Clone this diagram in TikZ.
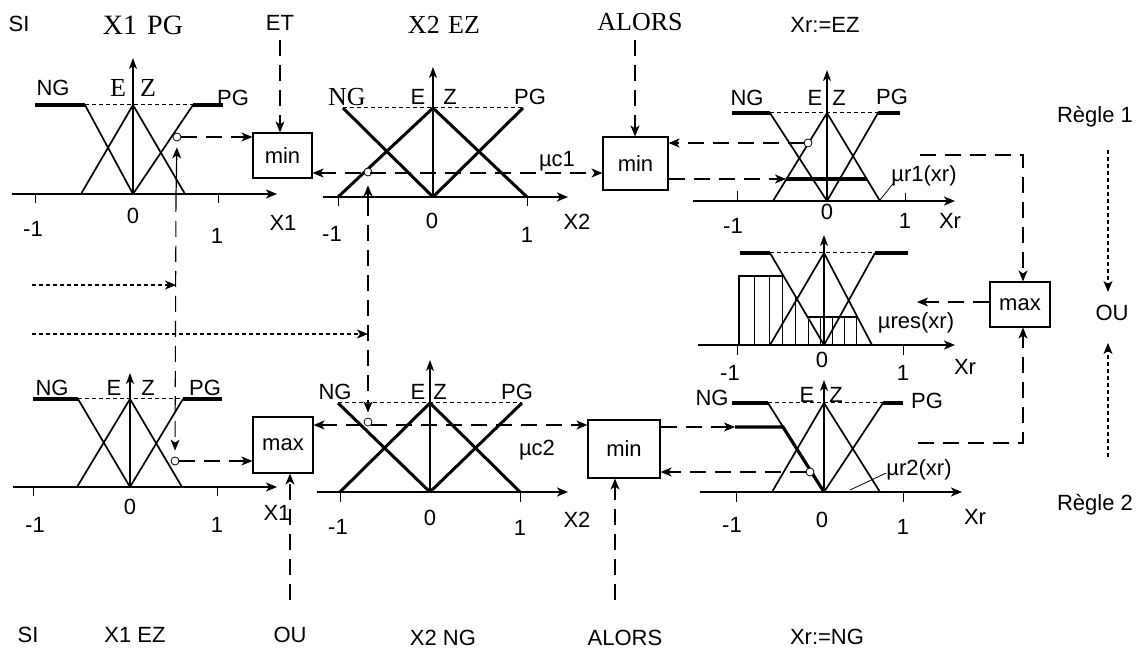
\documentclass[tikz,border=0pt]{standalone}
\usepackage{fontspec}
\setmainfont{Liberation Serif}
\setsansfont{Liberation Sans}
\usetikzlibrary{arrows.meta}
\begin{document}
\begin{tikzpicture}[x=1pt,y=-1pt,
  ax/.style={line width=2.4pt,-{Stealth[length=11pt,width=9pt,inset=3pt]}},
  vax/.style={line width=1.2pt,-{Stealth[length=11pt,width=8pt,inset=3pt]}},
  mf/.style={line width=1.7pt},
  mfb/.style={line width=3pt},
  plat/.style={line width=3.2pt},
  topd/.style={line width=1pt,dash pattern=on 4pt off 3pt},
  tk/.style={line width=1pt},
  con/.style={line width=1.1pt,dash pattern=on 16pt off 9pt},
  dotl/.style={line width=1.1pt,dash pattern=on 4pt off 3pt},
  arr/.style={-{Stealth[length=11pt,width=9pt,inset=3pt]}},
  arrb/.style={{Stealth[length=11pt,width=9pt,inset=3pt]}-{Stealth[length=11pt,width=9pt,inset=3pt]}},
  opbox/.style={draw,line width=1.1pt,inner sep=0pt,font=\sffamily\fontsize{22}{24}\selectfont},
  lab/.style={font=\sffamily\fontsize{22}{24}\selectfont,inner sep=0pt},
  slab/.style={font=\rmfamily\fontsize{26}{28}\selectfont,inner sep=0pt},
  circ/.style={circle,draw,fill=white,minimum size=8pt,inner sep=0pt,line width=0.8pt}]
\fill[white] (0,0) rectangle (1144,652);
\useasboundingbox (0,0) rectangle (1144,652);

% ---------- titles ----------
\node[lab] (si1) at (19,24) {SI};
\node[slab,font=\rmfamily\fontsize{28}{30}\selectfont] (t1) at (143,25) {X1 \hspace{3pt}PG};
\node[lab] (et) at (280,23) {ET};
\node[slab] (t2) at (444,25) {X2 \hspace{2pt}EZ};
\node[slab] (alors1) at (640,22) {ALORS};
\node[lab] (t3) at (825,25) {Xr:=EZ};
\node[lab] (r1) at (1095,117) {Règle 1};
\node[lab] (ou) at (1112,313) {OU};
\node[lab] (r2) at (1095,505) {Règle 2};
\node[lab] (si2) at (28,635) {SI};
\node[lab] (x1ez) at (135,635) {X1 EZ};
\node[lab] (ou2) at (290,635) {OU};
\node[lab] (x2ng) at (443,638) {X2 NG};
\node[lab] (alors2) at (625,638) {ALORS};
\node[lab] (xrng) at (827,637) {Xr:=NG};

% ---------- panel A (X1, rule 1) ----------
\draw[ax] (12,194) -- (277,194);
\draw[vax] (133,194) -- (133,58);
\draw[tk] (35,194) -- (35,203) (218,194) -- (218,203);
\draw[topd] (85,105) -- (193,105);
\draw[plat] (35,105) -- (85,105);
\draw[mf] (85,105) -- (133,194);
\draw[mf] (81,194) -- (133,105) -- (185,194);
\draw[mf] (133,194) -- (193,105);
\draw[plat] (193,105) -- (223,105);
\node[lab] (aNG) at (53,88) {NG};
\node[slab] (aE) at (118,88) {E};
\node[slab] (aZ) at (148,88) {Z};
\node[lab] (aPG) at (233,98) {PG};
\node[lab] (am1) at (33,229) {-1};
\node[lab] (a0) at (133,216) {0};
\node[lab] (a1) at (217,236) {1};
\node[lab] (aX) at (283,223) {X1};

% ---------- panel B (X2, rule 1) ----------
\draw[ax] (323,197) -- (568,197);
\draw[vax] (433,197) -- (433,67);
\draw[tk] (338,197) -- (338,206) (527,197) -- (527,206);
\draw[topd] (343,108) -- (523,108);
\draw[mfb] (343,108) -- (433,197);
\draw[mfb] (338,197) -- (433,108) -- (527,197);
\draw[mfb] (433,197) -- (523,108);
\node[slab] (bNG) at (347,97) {NG};
\node[lab] (bE) at (418,97) {E};
\node[lab] (bZ) at (450,97) {Z};
\node[lab] (bPG) at (530,97) {PG};
\node[lab] (bm1) at (332,234) {-1};
\node[lab] (b0) at (432,221) {0};
\node[lab] (b1) at (527,235) {1};
\node[lab] (bX) at (577,222) {X2};

% ---------- panel C (Xr, rule 1) ----------
\draw[ax] (693,201) -- (955,201);
\draw[vax] (827,201) -- (827,70);
\draw[tk] (737,191) -- (737,201) (905,193) -- (905,201);
\draw[topd] (770,113) -- (878,113);
\draw[plat] (732,113) -- (770,113);
\draw[mf] (770,113) -- (827,201);
\draw[mf] (773,201) -- (827,113) -- (880,201);
\draw[mf] (827,201) -- (878,113);
\draw[plat] (878,113) -- (900,113);
\coordinate (clipL) at (786,179);
\draw[plat] (clipL) -- (867,179);
\node[lab] (cNG) at (747,98) {NG};
\node[lab] (cE) at (815,98) {E};
\node[lab] (cZ) at (839,98) {Z};
\node[lab] (cPG) at (892,97) {PG};
\node[lab] (cm1) at (733,226) {-1};
\node[lab] (c0) at (827,212) {0};
\node[lab] (c1) at (905,221) {1};
\node[lab] (cX) at (950,221) {Xr};
\node[lab] (mur1) at (924,176) {µr1(xr)};
\draw[line width=0.8pt] (mur1.south west) ++(2,-3) -- (880,200);

% ---------- panel D (result) ----------
\draw[ax] (698,345) -- (955,345);
\draw[vax] (824,345) -- (824,235);
\draw[tk] (737,345) -- (737,355) (903,345) -- (903,355);
\draw[topd] (770,253) -- (875,253);
\draw[plat] (740,253) -- (770,253);
\draw[mf] (770,253) -- (824,345);
\draw[mf] (770,345) -- (824,253) -- (872,345);
\draw[mf] (824,345) -- (875,253);
\draw[plat] (875,253) -- (908,253);
\begin{scope}
\clip (739,345) -- (739,276) -- (783,276) -- (808,317) -- (857,317) -- (872,345) -- cycle;
\foreach \x in {739,754,769,782,795,808,820,832,844,856}
  \draw[line width=0.9pt] (\x,250) -- (\x,350);
\end{scope}
\draw[line width=1.8pt] (739,345) -- (739,276) -- (783,276);
\draw[line width=1.8pt] (808,317) -- (857,317);
\node[lab] (dm1) at (730,373) {-1};
\node[lab] (d0) at (822,360) {0};
\node[lab] (d1) at (903,373) {1};
\node[lab] (dX) at (965,367) {Xr};
\node[lab] (mures) at (916,323) {µres(xr)};

% ---------- panel E (X1, rule 2) ----------
\draw[ax] (13,487) -- (277,487);
\draw[vax] (130,487) -- (130,373);
\draw[tk] (33,487) -- (33,496) (217,487) -- (217,496);
\draw[topd] (78,399) -- (183,399);
\draw[plat] (33,399) -- (78,399);
\draw[mf] (78,399) -- (130,487);
\draw[mf] (77,487) -- (130,399) -- (182,487);
\draw[mf] (130,487) -- (183,399);
\draw[plat] (183,399) -- (222,399);
\node[lab] (eNG) at (52,388) {NG};
\node[lab] (eE) at (114,388) {E};
\node[lab] (eZ) at (148,388) {Z};
\node[lab] (ePG) at (205,388) {PG};
\node[lab] (em1) at (35,525) {-1};
\node[lab] (e0) at (130,507) {0};
\node[lab] (e1) at (217,525) {1};
\node[lab] (eX) at (277,513) {X1};

% ---------- panel F (X2, rule 2) ----------
\draw[ax] (317,492) -- (568,492);
\draw[vax] (430,492) -- (430,360);
\draw[tk] (340,492) -- (340,502) (520,492) -- (520,502);
\draw[topd] (338,403) -- (522,403);
\draw[mfb] (338,403) -- (430,492);
\draw[mfb] (340,492) -- (430,403) -- (520,492);
\draw[mfb] (430,492) -- (522,403);
\node[lab] (fNG) at (335,392) {NG};
\node[lab] (fE) at (418,392) {E};
\node[lab] (fZ) at (440,392) {Z};
\node[lab] (fPG) at (517,392) {PG};
\node[lab] (fm1) at (338,527) {-1};
\node[lab] (f0) at (430,518) {0};
\node[lab] (f1) at (520,528) {1};
\node[lab] (fX) at (577,520) {X2};

% ---------- panel G (Xr, rule 2) ----------
\draw[ax] (700,492) -- (962,492);
\draw[vax] (824,492) -- (824,380);
\draw[tk] (736,492) -- (736,502) (903,492) -- (903,502);
\draw[topd] (768,403) -- (883,403);
\draw[plat] (732,403) -- (768,403);
\draw[mf] (768,403) -- (824,492);
\draw[mf] (772,492) -- (824,403) -- (880,492);
\draw[mf] (824,492) -- (883,403);
\draw[plat] (883,403) -- (903,403);
\coordinate (clipG) at (735,427);
\draw[plat] (clipG) -- (783,427) -- (824,492);
\node[lab] (gNG) at (712,398) {NG};
\node[lab] (gE) at (807,395) {E};
\node[lab] (gZ) at (836,395) {Z};
\node[lab] (gPG) at (927,401) {PG};
\node[lab] (gm1) at (732,525) {-1};
\node[lab] (g0) at (822,520) {0};
\node[lab] (g1) at (903,527) {1};
\node[lab] (gX) at (975,517) {Xr};
\node[lab] (mur2) at (919,470) {µr2(xr)};
\draw[line width=0.8pt] (mur2.west) ++(0,3) -- (850,490);

% ---------- operator boxes ----------
\node[opbox,minimum width=59pt,minimum height=45pt] (min1) at (282.5,155.5) {min};
\node[opbox,minimum width=65pt,minimum height=53pt] (min2) at (635.5,163.5) {min};
\node[opbox,minimum width=60pt,minimum height=45pt] (maxr) at (1020,304.5) {max};
\node[opbox,minimum width=60pt,minimum height=56pt] (max1) at (283,445) {max};
\node[opbox,minimum width=72pt,minimum height=58pt] (min3) at (624,449) {min};

% ---------- sample points ----------
\node[circ] (cA) at (177,137) {};
\node[circ] (cB) at (368,172) {};
\node[circ] (cC) at (808,143) {};
\node[circ] (cEp) at (175,461) {};
\node[circ] (cF) at (368,422) {};
\node[circ] (cG) at (810,472) {};

% ---------- inputs ----------
\coordinate (v1) at (176,196);
\coordinate (v2) at (368,200);
\coordinate (i1) at (32,285);
\coordinate (i2) at (32,334);
\draw[dotl,arr] (i1) -- (i1 -| v1);
\draw[dotl,arr] (i2) -- (i2 -| v2);
\draw[line width=1.2pt,arr,shorten >=6pt] (v1) -- (cA.south);
\draw[con,arr,shorten >=6pt] (v1) -- (cEp.north);
\draw[line width=1.2pt,arr,shorten >=9pt] (v2) -- (cB.south);
\draw[con,arr,shorten >=5pt] (v2) -- (cF.north);

% ---------- connectors rule 1 ----------
\coordinate (etA) at (280,40);
\draw[con,arr] (etA) -- (etA |- min1.north);
\coordinate (alA) at (635,40);
\draw[con,arr] (alA) -- (alA |- min2.north);
\draw[con,arr] (cA.east) -- (cA.east -| min1.west);
\coordinate (mc1) at (0,173);
\draw[con,arrb] (mc1 -| min1.east) -- (mc1 -| min2.west);
\node[lab] (muc1) at (557,161) {µc1};
\draw[con,arr] (cC.west) -- (cC.west -| min2.east);
\draw[con,arr] (min2.east |- clipL) -- (clipL);

% ---------- connectors to max ----------
\coordinate (r1a) at (920,155);
\coordinate (r1b) at (1023,155);
\draw[con,arr] (r1a) -- (r1b) -- (r1b |- maxr.north);
\coordinate (r2a) at (918,443);
\coordinate (r2b) at (1023,443);
\draw[con,arr] (r2a) -- (r2b) -- (r2b |- maxr.south);
\coordinate (res) at (917,302);
\draw[con,arr] (maxr.west |- res) -- (res);
\coordinate (d1a) at (1108,150);
\coordinate (d1b) at (1108,292);
\coordinate (d2a) at (1108,457);
\coordinate (d2b) at (1108,343);
\draw[dotl,arr] (d1a) -- (d1b);
\draw[dotl,arr] (d2a) -- (d2b);

% ---------- connectors rule 2 ----------
\coordinate (ouA) at (290,600);
\draw[con,arr] (ouA) -- (ouA |- max1.south);
\coordinate (alB) at (615,600);
\draw[con,arr] (alB) -- (alB |- min3.south);
\draw[con,arr] (cEp.east) -- (cEp.east -| max1.west);
\coordinate (mc2) at (0,425);
\draw[con,arrb] (mc2 -| max1.east) -- (mc2 -| min3.west);
\node[lab] (muc2) at (537,450) {µc2};
\draw[con,arr] (min3.east |- clipG) -- (clipG);
\draw[con,arr] (cG.west) -- (cG.west -| min3.east);
\end{tikzpicture}
\end{document}
